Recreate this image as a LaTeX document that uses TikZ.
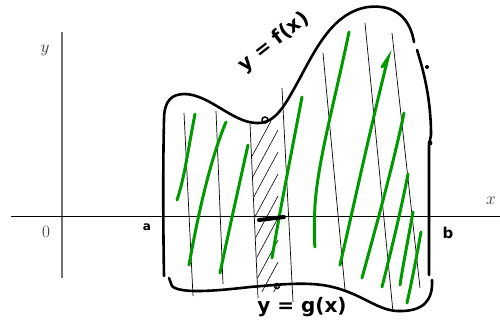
\documentclass[tikz,border=0pt]{standalone}
\usepackage{fontspec}
\newfontfamily\handfont{DejaVu Sans}
\begin{document}
\begin{tikzpicture}[x=1pt,y=-1pt,
  outline/.style={line width=2.6pt,line cap=round,line join=round},
  greenstroke/.style={draw=green!60!black,line width=3pt,line cap=round},
  thinline/.style={line width=0.7pt},
  hatch/.style={line width=0.6pt},
  axislabel/.style={text=black!80,font=\fontsize{17}{18}\selectfont},
  handlabel/.style={font=\handfont\bfseries\fontsize{20}{22}\selectfont,inner sep=0pt}]
\path[use as bounding box] (0,0) rectangle (500,326);
% axes
\draw[gray!90!black,line width=1.3pt] (62,32) -- (62,278);
\draw[line width=0.8pt] (11,216) -- (500,216);
\node[axislabel] (ylab) at (45,50) {$y$};
\node[axislabel] (xlab) at (491,201) {$x$};
\node[axislabel] (zero) at (46,232) {$0$};
% thin strip lines
\draw[thinline] (184,113) -- (193,296);
\draw[thinline] (216,111) -- (223,284);
\draw[thinline] (250,124) -- (258,298);
\draw[thinline] (282,88) -- (293,302);
\draw[thinline] (323,53) -- (345,290);
\draw[thinline] (365,23) -- (393,312);
\draw[thinline] (392,33) -- (420,288);
% hatching of the strip
\begin{scope}
\clip (251,126) -- (282,118) -- (292,292) -- (258,292) -- cycle;
\foreach \i in {0,...,10}{
  \draw[hatch] (250,{160+22*\i}) -- (278,{108+22*\i});
}
\end{scope}
% green strokes
\draw[greenstroke] (195,114) .. controls (188,150) and (184,180) .. (177,200);
\draw[greenstroke] (226,122) .. controls (210,160) and (198,215) .. (189,265);
\draw[greenstroke] (248,145) .. controls (238,190) and (228,235) .. (220,273);
\draw[greenstroke] (302,97) .. controls (292,150) and (280,210) .. (272,258);
\draw[greenstroke] (349,32) .. controls (335,100) and (318,160) .. (315,205) .. controls (314,225) and (314,240) .. (315,247);
\draw[greenstroke] (382,67) -- (388,58) .. controls (370,130) and (355,200) .. (340,265);
\draw[greenstroke] (404,113) .. controls (392,170) and (375,230) .. (362,278);
\draw[greenstroke] (408,174) .. controls (400,215) and (390,255) .. (382,287);
\draw[greenstroke] (413,212) .. controls (408,240) and (403,265) .. (400,285);
\draw[greenstroke] (421,232) .. controls (416,260) and (411,285) .. (407,303);
% outline
\draw[outline] (164,276) .. controls (163,220) and (163,160) .. (164,120)
  .. controls (164,100) and (172,94) .. (185,94)
  .. controls (210,95) and (232,122) .. (256,123)
  .. controls (276,124) and (285,105) .. (300,78)
  .. controls (318,44) and (335,12) .. (368,7)
  .. controls (395,4) and (410,18) .. (414,42);
\draw[outline] (417,50) .. controls (424,72) and (431,100) .. (431,135)
  -- (429,145) -- (429,275);
\draw[outline] (432,280) .. controls (433,300) and (424,312) .. (397,311)
  .. controls (375,310) and (358,290) .. (322,285)
  .. controls (300,282) and (275,285) .. (250,287)
  .. controls (215,291) and (180,294) .. (172,286) -- (169,278);
\fill (430,143) circle (2.4);
\fill (427,67) circle (2);
% small circles on the curves
\draw[line width=1.5pt] (265,120) circle (3);
\draw[line width=1.5pt] (277,286) circle (2.5);
% blob on the axis
\draw[line width=4pt,line cap=round] (259,220) -- (284,217);
% labels
\node[handlabel,font=\handfont\bfseries\fontsize{12}{14}\selectfont] (alab) at (147,227) {a};
\node[handlabel,font=\handfont\bfseries\fontsize{15}{16}\selectfont] (blab) at (448,233) {b};
\node[handlabel,rotate=38] (flab) at (274,42) {y = f(x)};
\node[handlabel] (glab) at (302,307) {y = g(x)};
\end{tikzpicture}
\end{document}
